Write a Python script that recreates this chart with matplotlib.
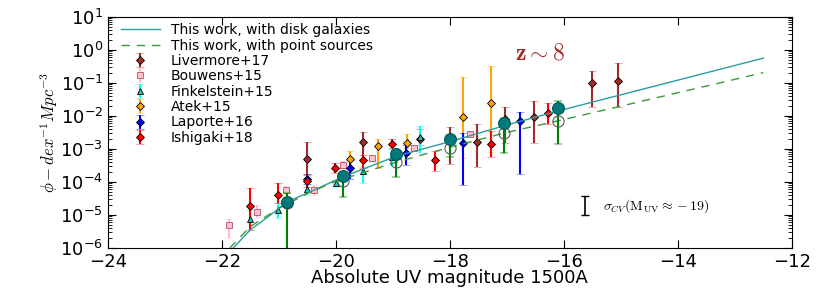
import numpy as np
import matplotlib
matplotlib.use("Agg")
import matplotlib.pyplot as plt
from matplotlib.ticker import LogLocator

# ── model curves (log10 phi) ──
disk_m = [-21.80, -21.50, -21.20, -20.85, -20.45, -19.88, -18.94, -18.00, -17.05, -16.10, -12.50]
disk_lphi = [-6.00, -5.45, -5.07, -4.60, -4.30, -3.85, -3.22, -2.78, -2.30, -1.85, -0.25]
pts_m = [-21.86, -21.50, -21.00, -20.50, -20.00, -18.94, -18.00, -17.05, -16.10, -12.50]
pts_lphi = [-6.00, -5.35, -4.80, -4.35, -3.98, -3.40, -2.95, -2.52, -2.15, -0.69]

# ── this work (binned points) ──
tw_m = [-20.85, -19.88, -18.94, -18.00, -17.05, -16.10]
tw_disk = [-4.60, -3.82, -3.16, -2.71, -2.20, -1.77]
tw_pt = [-4.65, -3.97, -3.40, -2.98, -2.52, -2.15]
tw_lo = [-7.00, -4.45, -3.84, -3.23, -3.11, -2.86]
tw_hi = [-4.35, -3.70, -3.05, -2.60, -2.05, -1.54]

# ── literature (M, log phi, log lower, log upper) ──
liv_m = [-20.50, -19.52, -18.53, -18.00, -17.53, -17.03, -16.52, -15.51, -15.05]
liv_y = [-3.31, -2.80, -2.70, -2.71, -2.78, -2.10, -2.04, -0.99, -0.93]
liv_lo = [-3.75, -3.33, -2.88, -3.45, -3.55, -2.83, -2.81, -1.74, -1.72]
liv_hi = [-2.80, -2.49, -2.39, -2.35, -2.25, -1.74, -1.54, -0.63, -0.40]

bou_m = [-21.87, -21.38, -20.88, -20.38, -19.88, -19.37, -18.63, -17.64]
bou_y = [-5.32, -4.90, -4.25, -4.24, -3.48, -3.28, -2.96, -2.55]
bou_lo = [-5.71, -5.10, -4.40, -4.40, -3.60, -3.40, -3.05, -2.65]
bou_hi = [-5.12, -4.70, -4.12, -4.10, -3.38, -3.18, -2.88, -2.47]

fin_m = [-21.51, -21.01, -20.51, -19.99, -19.52, -19.02, -18.53]
fin_y = [-5.13, -4.85, -4.22, -4.04, -3.67, -3.23, -2.63]
fin_lo = [-5.45, -5.10, -4.40, -4.14, -4.04, -3.48, -3.13]
fin_hi = [-4.85, -4.63, -4.05, -3.94, -3.54, -3.00, -2.30]

atk_m = [-19.75, -19.26, -18.76, -17.77, -17.27]
atk_y = [-3.31, -2.91, -2.83, -2.04, -1.62]
atk_lo = [-3.54, -3.59, -2.98, -3.28, -3.08]
atk_hi = [-3.06, -2.71, -2.55, -0.81, -0.48]

lap_m = [-20.50, -19.75, -18.77, -17.77, -16.77]
lap_y = [-3.90, -3.59, -3.13, -2.83, -2.15]
lap_lo = [-4.05, -3.92, -3.48, -4.09, -3.76]
lap_hi = [-3.75, -3.33, -2.88, -2.52, -1.87]

ish_m = [-21.51, -21.01, -20.50, -20.02, -19.52, -19.02, -18.26, -17.27, -16.28]
ish_y = [-4.73, -4.39, -3.96, -3.59, -3.35, -2.85, -3.33, -2.85, -1.90]
ish_lo = [-5.45, -4.63, -4.14, -3.74, -3.59, -2.98, -3.66, -3.25, -2.25]
ish_hi = [-4.19, -4.04, -3.78, -3.43, -3.18, -2.71, -3.05, -2.47, -1.62]

sigma_m = -15.63
sigma_lo, sigma_hi = -5.00, -4.44

x_ticks = [-24, -22, -20, -18, -16, -14, -12]
y_decades = [-6, -5, -4, -3, -2, -1, 0, 1]

plt.rcParams["mathtext.fontset"] = "cm"
plt.rcParams["font.family"] = "DejaVu Sans"


def ebar(ax, m, y, lo, hi, color, marker, ms, mfc, mec, label, z=3):
    y = np.array(y)
    lo = np.array(lo)
    hi = np.array(hi)
    phi = 10**y
    err = [phi - 10**lo, 10**hi - phi]
    c = ax.errorbar(m, phi, yerr=err, fmt=marker, color=color, ms=ms,
                    mfc=mfc, mec=mec, mew=0.6, elinewidth=1.5, capsize=3,
                    capthick=1.2, label=label, zorder=z)
    for cl in c[1]:
        cl.set_alpha(0.45)
    return c


fig = plt.figure(figsize=(8.3, 2.91), dpi=100)
ax = fig.add_axes([0.130, 0.148, 0.824, 0.794])

ax.plot(disk_m, 10**np.array(disk_lphi), color="#2a9d9d", lw=1.0,
        label="This work, with disk galaxies", zorder=4)
ax.plot(pts_m, 10**np.array(pts_lphi), color="#3a9a3a", lw=1.0, ls=(0, (6, 5)),
        label="This work, with point sources", zorder=4)

ebar(ax, liv_m, liv_y, liv_lo, liv_hi, "brown", "D", 4, "brown", "k", "Livermore+17")
ebar(ax, bou_m, bou_y, bou_lo, bou_hi, "pink", "s", 4.5, "pink", "#b05070", "Bouwens+15")
ebar(ax, fin_m, fin_y, fin_lo, fin_hi, "cyan", "^", 4.5, "#20c0c0", "k", "Finkelstein+15")
ebar(ax, atk_m, atk_y, atk_lo, atk_hi, "orange", "D", 4, "orange", "k", "Atek+15")
ebar(ax, lap_m, lap_y, lap_lo, lap_hi, "blue", "D", 4, "blue", "k", "Laporte+16")
ebar(ax, ish_m, ish_y, ish_lo, ish_hi, "red", "D", 4, "red", "k", "Ishigaki+18")

# this work: green errors, teal filled (disk) and open (point) circles
tw_phi = 10**np.array(tw_pt)
c = ax.errorbar(tw_m, tw_phi, yerr=[tw_phi - 10**np.array(tw_lo), 10**np.array(tw_hi) - tw_phi],
                fmt="none", ecolor="green", elinewidth=1.5, capsize=3, capthick=1.2, zorder=5)
for cl in c[1]:
    cl.set_alpha(0.45)
ax.plot(tw_m, 10**np.array(tw_pt), "o", ms=8, mfc="none", mec="0.35", mew=0.8, zorder=6)
ax.plot(tw_m, 10**np.array(tw_disk), "o", ms=8.5, mfc="#007a7a", mec="#005555", mew=0.8, zorder=7)

# cosmic variance bar
ax.errorbar([sigma_m], [10**((sigma_lo + sigma_hi) / 2)],
            yerr=[[10**((sigma_lo + sigma_hi) / 2) - 10**sigma_lo],
                  [10**sigma_hi - 10**((sigma_lo + sigma_hi) / 2)]],
            fmt="none", ecolor="k", elinewidth=1.2, capsize=3, capthick=1.0)
ax.text(-15.32, 10**-4.73, r"$\sigma_{CV}(\mathrm{M_{UV}}\approx-19)$", fontsize=10,
        va="center", ha="left")
ax.text(-16.42, 10**-0.08, r"$\mathbf{z\sim8}$", fontsize=17, color="brown",
        ha="center", va="center")

ax.set_yscale("log")
ax.set_xlim(-24, -12)
ax.set_ylim(1e-6, 1e1)
ax.set_xticks(x_ticks)
ax.set_yticks(10.0**np.array(y_decades))
ax.yaxis.set_minor_locator(LogLocator(base=10, subs=np.arange(2, 10), numticks=12))
ax.tick_params(which="both", direction="in", top=True, right=True, labelsize=13)
ax.tick_params(which="major", length=6)
ax.tick_params(which="minor", length=3)
ax.set_xlabel("Absolute UV magnitude 1500A", fontsize=13, labelpad=-1)
ax.set_ylabel(r"$\phi - dex^{-1} Mpc^{-3}$", fontsize=12, labelpad=0)

ax.legend(loc="upper left", frameon=False, fontsize=10, numpoints=1,
          labelspacing=0.1, handlelength=2.8, borderaxespad=0.05,
          bbox_to_anchor=(0.01, 1.0))

fig.savefig("out.png", dpi=100)
